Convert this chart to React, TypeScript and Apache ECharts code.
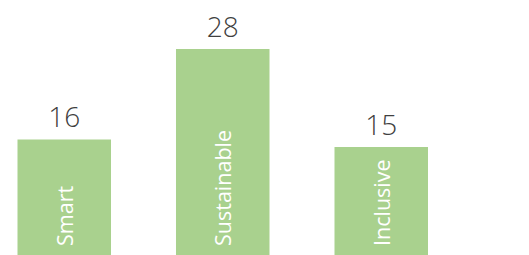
import React, { useEffect, useRef } from "react";
import * as echarts from "echarts";

const categories = ["Smart", "Sustainable", "Inclusive"];
const values = [16, 28, 15];

export default function App() {
  const ref = useRef<HTMLDivElement>(null);
  useEffect(() => {
    document.body.style.margin = "0";
    document.body.style.overflow = "hidden";
    const chart = echarts.init(ref.current!, null, { renderer: "svg" });
    chart.setOption({
      animation: false,
      backgroundColor: "#ffffff",
      grid: { left: 0, width: 475.5, top: 0, height: 260, containLabel: false },
      xAxis: {
        type: "category",
        data: categories,
        axisLine: { show: false },
        axisTick: { show: false },
        axisLabel: { show: false },
      },
      yAxis: {
        type: "value",
        min: 0,
        max: 34.5,
        splitLine: { show: false },
        axisLine: { show: false },
        axisTick: { show: false },
        axisLabel: { show: false },
      },
      series: [
        {
          type: "bar",
          data: values,
          barCategoryGap: "41%",
          itemStyle: { color: "#A9D18E" },
          label: {
            show: true,
            position: "top",
            distance: 9,
            color: "#404040",
            fontSize: 28,
            fontWeight: 300,
            fontFamily: "Open Sans",
          },
        },
        {
          type: "bar",
          data: values,
          barGap: "-100%",
          barCategoryGap: "41%",
          itemStyle: { color: "transparent" },
          silent: true,
          label: {
            show: true,
            position: "insideBottom",
            rotate: 90,
            align: "left",
            verticalAlign: "middle",
            distance: 14,
            color: "#ffffff",
            fontSize: 21.5,
            fontFamily: "Open Sans",
            formatter: (p: any) => categories[p.dataIndex],
          },
        },
      ],
    });
    return () => chart.dispose();
  }, []);
  return (
    <div
      ref={ref}
      style={{ position: "fixed", left: -15, top: 0, width: 544, height: 260 }}
    />
  );
}
